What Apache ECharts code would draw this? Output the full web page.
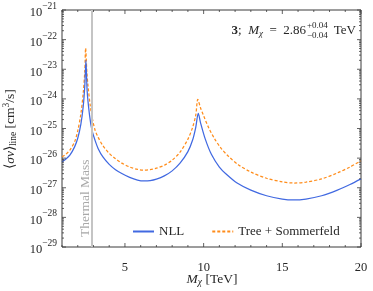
<!DOCTYPE html>
<html>
<head>
<meta charset="utf-8">
<script src="https://cdn.jsdelivr.net/npm/echarts@6/dist/echarts.min.js"></script>
<style>
html,body{margin:0;padding:0;background:#fff;}
#c{width:373px;height:291px;}
</style>
</head>
<body>
<div id="c"></div>
<script>
// Data (x: M_chi in TeV, y: log10 of <σv>_line in cm^3/s)
const nllX   = [1.0, 1.25, 1.5, 1.8, 2.0, 2.2, 2.35, 2.45, 2.52, 2.6, 2.75, 2.9, 3.1, 3.3, 3.6, 4.0, 4.4, 4.8, 5.3, 5.8, 6.2, 6.6, 7.0, 7.5, 8.0, 8.5, 9.0, 9.3, 9.5, 9.66, 9.8, 10.1, 10.5, 11.0, 11.5, 12.1, 13.0, 14.0, 15.0, 15.7, 16.5, 17.5, 18.5, 19.3, 20.0];
const nllLog = [-26.12, -26.03, -25.90, -25.62, -25.33, -24.85, -24.25, -23.55, -22.70, -23.75, -24.55, -25.05, -25.40, -25.68, -25.96, -26.21, -26.39, -26.52, -26.65, -26.74, -26.77, -26.76, -26.71, -26.60, -26.43, -26.17, -25.78, -25.39, -24.96, -24.49, -24.80, -25.35, -25.88, -26.30, -26.57, -26.83, -27.08, -27.27, -27.38, -27.41, -27.38, -27.27, -27.08, -26.89, -26.70];
const treeX   = [1.0, 1.25, 1.5, 1.8, 2.0, 2.2, 2.35, 2.45, 2.5, 2.58, 2.65, 2.8, 2.95, 3.1, 3.3, 3.6, 4.0, 4.4, 4.8, 5.3, 5.8, 6.2, 6.6, 7.0, 7.5, 8.0, 8.5, 9.0, 9.3, 9.5, 9.63, 9.8, 10.0, 10.3, 10.7, 11.1, 11.6, 12.2, 13.0, 14.0, 15.0, 15.7, 16.5, 17.5, 18.5, 19.3, 20.0];
const treeLog = [-25.96, -25.87, -25.73, -25.45, -25.08, -24.50, -23.80, -23.05, -22.29, -23.10, -23.55, -24.25, -24.72, -25.05, -25.30, -25.58, -25.84, -26.02, -26.17, -26.30, -26.38, -26.41, -26.39, -26.34, -26.24, -26.07, -25.80, -25.36, -24.96, -24.55, -24.02, -24.30, -24.57, -24.95, -25.35, -25.66, -25.95, -26.22, -26.47, -26.68, -26.80, -26.84, -26.81, -26.70, -26.50, -26.30, -26.09];
const thermalMass = 2.86;
const xTickLabels = [5, 10, 15, 20];
const yDecades = [-29, -28, -27, -26, -25, -24, -23, -22, -21];
const seriesNames = ['NLL', 'Tree + Sommerfeld'];

const FONT = 'Liberation Serif';
const BLUE = '#4169e1';
const ORANGE = '#ff8c1a';
const INK = '#262626';

const nllData = nllX.map((x, i) => [x, nllLog[i]]);
const treeData = treeX.map((x, i) => [x, treeLog[i]]);

// tick marks on all four sides: [x, y, side, length]
const ticks = [];
for (let x = 1; x <= 20; x++) {
  const major = xTickLabels.indexOf(x) >= 0;
  ticks.push([x, -29, 0, major ? 4 : 2]);
  ticks.push([x, -21, 1, major ? 4 : 2]);
}
for (let d = 0; d < yDecades.length; d++) {
  const e = yDecades[d];
  ticks.push([1, e, 2, 4]);
  ticks.push([20, e, 3, 4]);
  if (e < -21) {
    for (let k = 2; k <= 9; k++) {
      ticks.push([1, e + Math.log10(k), 2, 2]);
      ticks.push([20, e + Math.log10(k), 3, 2]);
    }
  }
}

const chart = echarts.init(document.getElementById('c'), null, {renderer: 'canvas'});
const option = {
  animation: false,
  backgroundColor: '#fff',
  grid: {left: 62, right: 12, top: 10, bottom: 44, show: true, borderColor: '#3a3a3a', borderWidth: 1, backgroundColor: 'transparent', outerBoundsMode: 'none', containLabel: false},
  xAxis: {
    type: 'value', min: 1, max: 20, interval: 1,
    axisLine: {show: false}, axisTick: {show: false}, splitLine: {show: false},
    axisLabel: {
      margin: 14, fontFamily: FONT, fontSize: 12.5, color: INK, showMinLabel: true, showMaxLabel: true,
      formatter: v => (xTickLabels.indexOf(v) >= 0 ? String(v) : '')
    }
  },
  yAxis: {
    type: 'value', min: -29, max: -21, interval: 1,
    axisLine: {show: false}, axisTick: {show: false}, splitLine: {show: false},
    axisLabel: {
      margin: 5, color: INK, showMinLabel: true, showMaxLabel: true,
      formatter: v => '{b|10}{s|\u2212' + Math.abs(Math.round(v)) + '}',
      rich: {
        b: {fontFamily: FONT, fontSize: 12.5, color: INK, padding: [6, 0, 0, 0]},
        s: {fontFamily: FONT, fontSize: 9.5, color: INK, padding: [0, 0, 7, 0]}
      }
    }
  },
  legend: {
    data: seriesNames, left: 127, top: 220, itemWidth: 21, itemHeight: 10, itemGap: 27,
    itemStyle: {opacity: 0},
    textStyle: {fontFamily: FONT, fontSize: 13, color: INK}
  },
  series: [
    {
      name: seriesNames[0], type: 'line', data: nllData, showSymbol: false, symbol: 'none',
      smooth: 0.3,
      lineStyle: {color: BLUE, width: 1.25}, itemStyle: {color: BLUE}, z: 4,
      markLine: {
        silent: true, symbol: 'none', label: {show: false},
        lineStyle: {color: '#c4c4c4', width: 2, type: 'solid'},
        data: [{xAxis: thermalMass}]
      }
    },
    {
      name: seriesNames[1], type: 'line', data: treeData, showSymbol: false, symbol: 'none',
      smooth: 0.3,
      lineStyle: {color: ORANGE, width: 1.25, type: [3, 2]}, itemStyle: {color: ORANGE}, z: 3
    },
    {
      type: 'custom', silent: true, z: 6, clip: false,
      data: ticks,
      encode: {x: 0, y: 1},
      renderItem: function (params, api) {
        const p = api.coord([api.value(0), api.value(1)]);
        const dir = api.value(2), len = api.value(3);
        let q;
        if (dir === 0) q = [p[0], p[1] - len];
        else if (dir === 1) q = [p[0], p[1] + len];
        else if (dir === 2) q = [p[0] + len, p[1]];
        else q = [p[0] - len, p[1]];
        return {type: 'line', shape: {x1: p[0], y1: p[1], x2: q[0], y2: q[1]}, style: {stroke: '#3a3a3a', lineWidth: 0.8}};
      }
    }
  ],
  graphic: [
    {
      type: 'text', x: 78, y: 237, rotation: Math.PI / 2,
      style: {text: 'Thermal Mass', fontFamily: FONT, fontSize: 13.5, fill: '#a8a8a8'}
    },
    {
      type: 'text', x: 306, y: 31,
      style: {
        text: '{b|3};  {i|M}{sb|\u03c7}  =  2.86', align: 'right', verticalAlign: 'middle',
        rich: {
          b: {fontFamily: FONT, fontSize: 13, fontWeight: 'bold', fill: INK},
          i: {fontFamily: FONT, fontSize: 13, fontStyle: 'italic', fill: INK},
          sb: {fontFamily: FONT, fontSize: 9, fontStyle: 'italic', fill: INK, padding: [6, 0, 0, 0]}
        },
        fontFamily: FONT, fontSize: 13, fill: INK
      }
    },
    {type: 'text', x: 307, y: 26, style: {text: '+0.04', fontFamily: FONT, fontSize: 9, fill: INK, verticalAlign: 'middle'}},
    {type: 'text', x: 307, y: 36, style: {text: '\u22120.04', fontFamily: FONT, fontSize: 9, fill: INK, verticalAlign: 'middle'}},
    {type: 'text', x: 356, y: 31, style: {text: 'TeV', fontFamily: FONT, fontSize: 13, fill: INK, align: 'right', verticalAlign: 'middle'}},
    {
      type: 'text', x: 212, y: 279,
      style: {
        text: '{i|M}{sb|\u03c7} [TeV]', align: 'center', verticalAlign: 'middle',
        rich: {
          i: {fontFamily: FONT, fontSize: 13.5, fontStyle: 'italic', fill: INK},
          sb: {fontFamily: FONT, fontSize: 9.5, fontStyle: 'italic', fill: INK, padding: [6, 0, 0, 0]}
        },
        fontFamily: FONT, fontSize: 13.5, fill: INK
      }
    },
    {
      type: 'text', x: 10, y: 129, rotation: Math.PI / 2,
      style: {
        text: '\u27e8{i|\u03c3v}\u27e9{sb|line} [cm{sp|3}/s]', align: 'center', verticalAlign: 'middle',
        rich: {
          i: {fontFamily: FONT, fontSize: 13.5, fontStyle: 'italic', fill: INK},
          sb: {fontFamily: FONT, fontSize: 9.5, fill: INK, padding: [6, 0, 0, 0]},
          sp: {fontFamily: FONT, fontSize: 9.5, fill: INK, padding: [0, 0, 8, 0]}
        },
        fontFamily: FONT, fontSize: 13.5, fill: INK
      }
    }
  ]
};
chart.setOption(option);
</script>
</body>
</html>
